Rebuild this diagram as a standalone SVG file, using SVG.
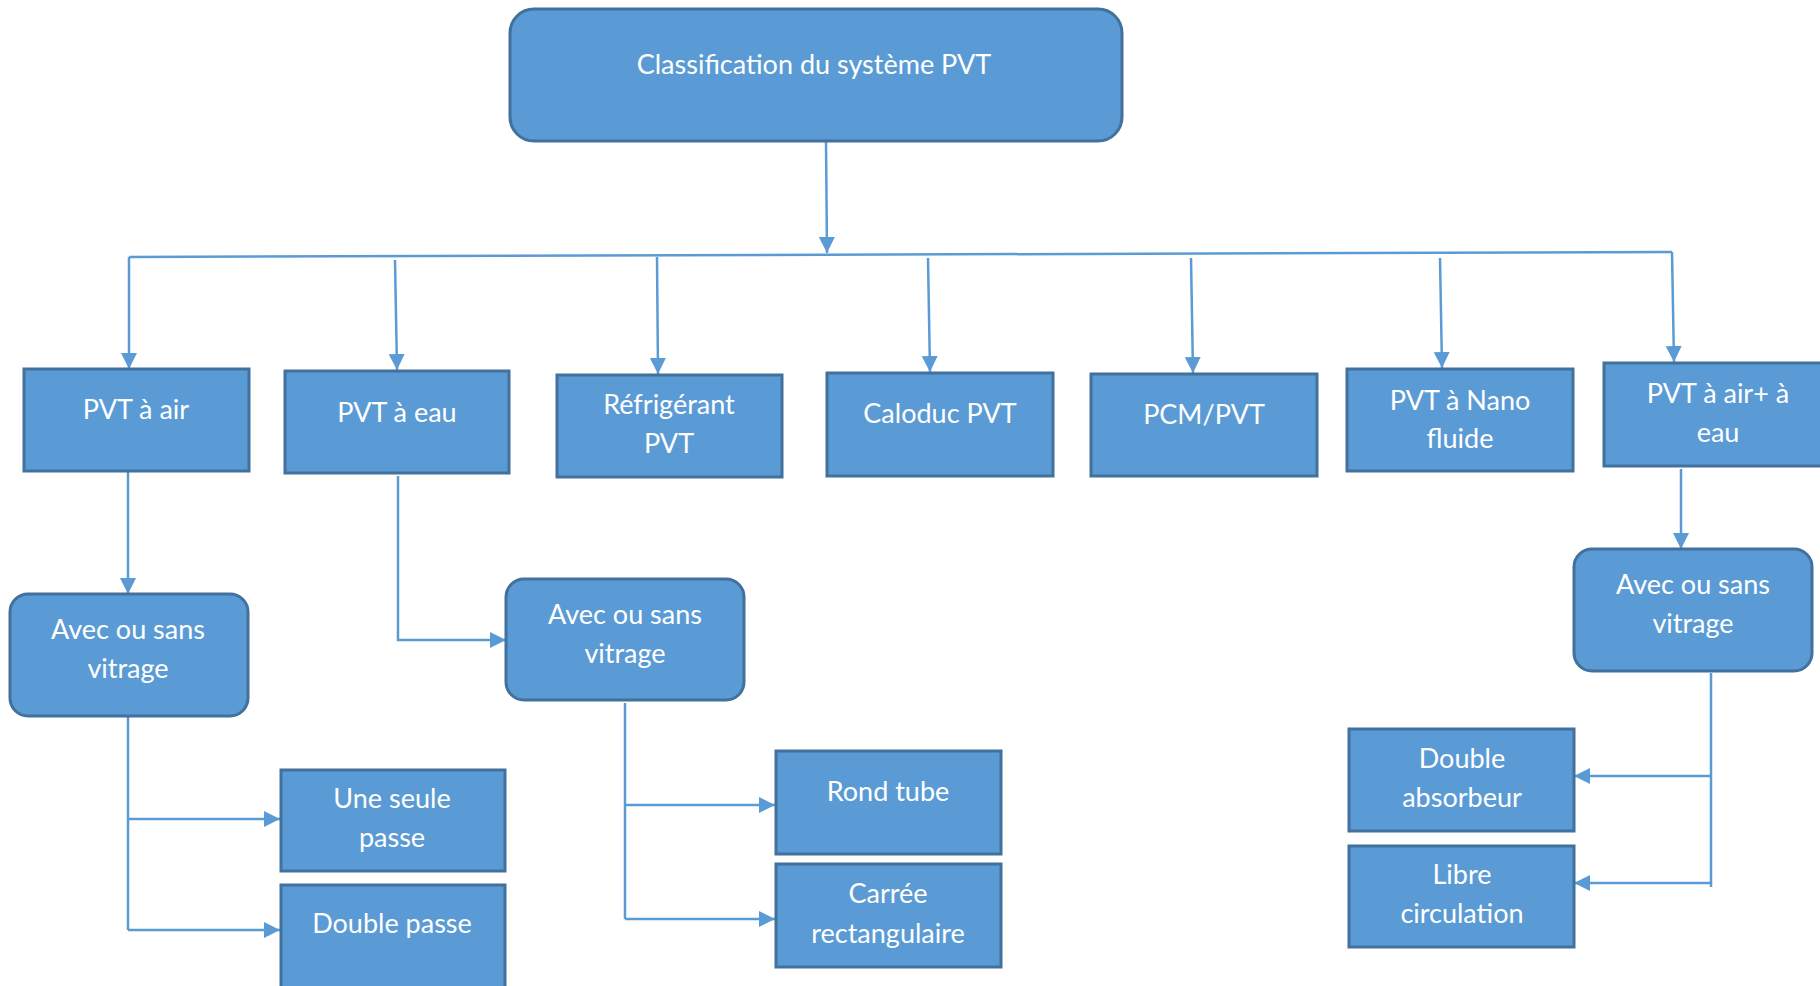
<svg xmlns="http://www.w3.org/2000/svg" width="1820" height="986" viewBox="0 0 1820 986">
<defs>
<style>
.box{fill:#5B9BD5;stroke:#41719C;stroke-width:3}
.t{fill:#FFFFFF;font-family:Lato,"Liberation Sans",sans-serif;font-size:27px;text-anchor:middle}
.c{fill:none;stroke:#5B9BD5;stroke-width:2.5}
.a{marker-end:url(#ah)}
</style>
<marker id="ah" markerUnits="userSpaceOnUse" markerWidth="18" markerHeight="18" refX="16" refY="9" orient="auto" viewBox="0 0 18 18">
<path d="M0,1 L16,9 L0,17 z" fill="#5B9BD5"/>
</marker>
</defs>
<rect width="1820" height="986" fill="#FFFFFF"/>
<g id="connectors">
<line class="c a" x1="826" y1="142" x2="827" y2="253"/>
<polyline class="c" points="1672,252 129,257"/>
<line class="c a" x1="129" y1="257" x2="129" y2="369"/>
<line class="c a" x1="395" y1="260" x2="397" y2="370"/>
<line class="c a" x1="657" y1="257" x2="658" y2="374"/>
<line class="c a" x1="928" y1="258" x2="930" y2="372"/>
<line class="c a" x1="1191" y1="258" x2="1193" y2="373"/>
<line class="c a" x1="1440" y1="258" x2="1442" y2="368"/>
<line class="c a" x1="1672" y1="252" x2="1674" y2="362"/>
<line class="c a" x1="128" y1="472" x2="128" y2="594"/>
<polyline class="c a" points="398,476 398,640 506,640"/>
<line class="c a" x1="1681" y1="469" x2="1681" y2="549"/>
<line class="c" x1="128" y1="716" x2="128" y2="930"/>
<line class="c a" x1="128" y1="819" x2="280" y2="819"/>
<line class="c a" x1="128" y1="930" x2="280" y2="930"/>
<line class="c" x1="625" y1="703" x2="625" y2="919"/>
<line class="c a" x1="625" y1="805" x2="775" y2="805"/>
<line class="c a" x1="625" y1="919" x2="775" y2="919"/>
<line class="c" x1="1711" y1="673" x2="1711" y2="887"/>
<line class="c a" x1="1711" y1="776" x2="1574" y2="776"/>
<line class="c a" x1="1711" y1="883" x2="1574" y2="883"/>
</g>
<g id="root">
<rect class="box" x="510" y="9" width="612" height="132" rx="24"/>
<text class="t" x="814" y="74">Classification du système PVT</text>
</g>
<g id="pvt-air">
<rect class="box" x="24" y="369" width="225" height="102"/>
<text class="t" x="136" y="419">PVT à air</text>
</g>
<g id="pvt-eau">
<rect class="box" x="285" y="371" width="224" height="102"/>
<text class="t" x="397" y="422">PVT à eau</text>
</g>
<g id="refrigerant">
<rect class="box" x="557" y="375" width="225" height="102"/>
<text class="t" x="669" y="414">Réfrigérant</text>
<text class="t" x="669" y="453">PVT</text>
</g>
<g id="caloduc">
<rect class="box" x="827" y="373" width="226" height="103"/>
<text class="t" x="940" y="423">Caloduc PVT</text>
</g>
<g id="pcm">
<rect class="box" x="1091" y="374" width="226" height="102"/>
<text class="t" x="1204" y="424">PCM/PVT</text>
</g>
<g id="nano">
<rect class="box" x="1347" y="369" width="226" height="102"/>
<text class="t" x="1460" y="410">PVT à Nano</text>
<text class="t" x="1460" y="448">fluide</text>
</g>
<g id="air-eau">
<rect class="box" x="1604" y="363" width="230" height="103"/>
<text class="t" x="1718" y="403">PVT à air+ à</text>
<text class="t" x="1718" y="442">eau</text>
</g>
<g id="vitrage-air">
<rect class="box" x="10" y="594" width="238" height="122" rx="18"/>
<text class="t" x="128" y="639">Avec ou sans</text>
<text class="t" x="128" y="678">vitrage</text>
</g>
<g id="vitrage-eau">
<rect class="box" x="506" y="579" width="238" height="121" rx="18"/>
<text class="t" x="625" y="624">Avec ou sans</text>
<text class="t" x="625" y="663">vitrage</text>
</g>
<g id="vitrage-air-eau">
<rect class="box" x="1574" y="549" width="238" height="122" rx="18"/>
<text class="t" x="1693" y="594">Avec ou sans</text>
<text class="t" x="1693" y="633">vitrage</text>
</g>
<g id="une-seule">
<rect class="box" x="281" y="770" width="224" height="101"/>
<text class="t" x="392" y="808">Une seule</text>
<text class="t" x="392" y="847">passe</text>
</g>
<g id="double-passe">
<rect class="box" x="281" y="885" width="224" height="110"/>
<text class="t" x="392" y="933">Double passe</text>
</g>
<g id="rond-tube">
<rect class="box" x="776" y="751" width="225" height="103"/>
<text class="t" x="888" y="801">Rond tube</text>
</g>
<g id="carree">
<rect class="box" x="776" y="864" width="225" height="103"/>
<text class="t" x="888" y="903">Carrée</text>
<text class="t" x="888" y="943">rectangulaire</text>
</g>
<g id="double-absorbeur">
<rect class="box" x="1349" y="729" width="225" height="102"/>
<text class="t" x="1462" y="768">Double</text>
<text class="t" x="1462" y="807">absorbeur</text>
</g>
<g id="libre">
<rect class="box" x="1349" y="846" width="225" height="101"/>
<text class="t" x="1462" y="884">Libre</text>
<text class="t" x="1462" y="923">circulation</text>
</g>
</svg>
